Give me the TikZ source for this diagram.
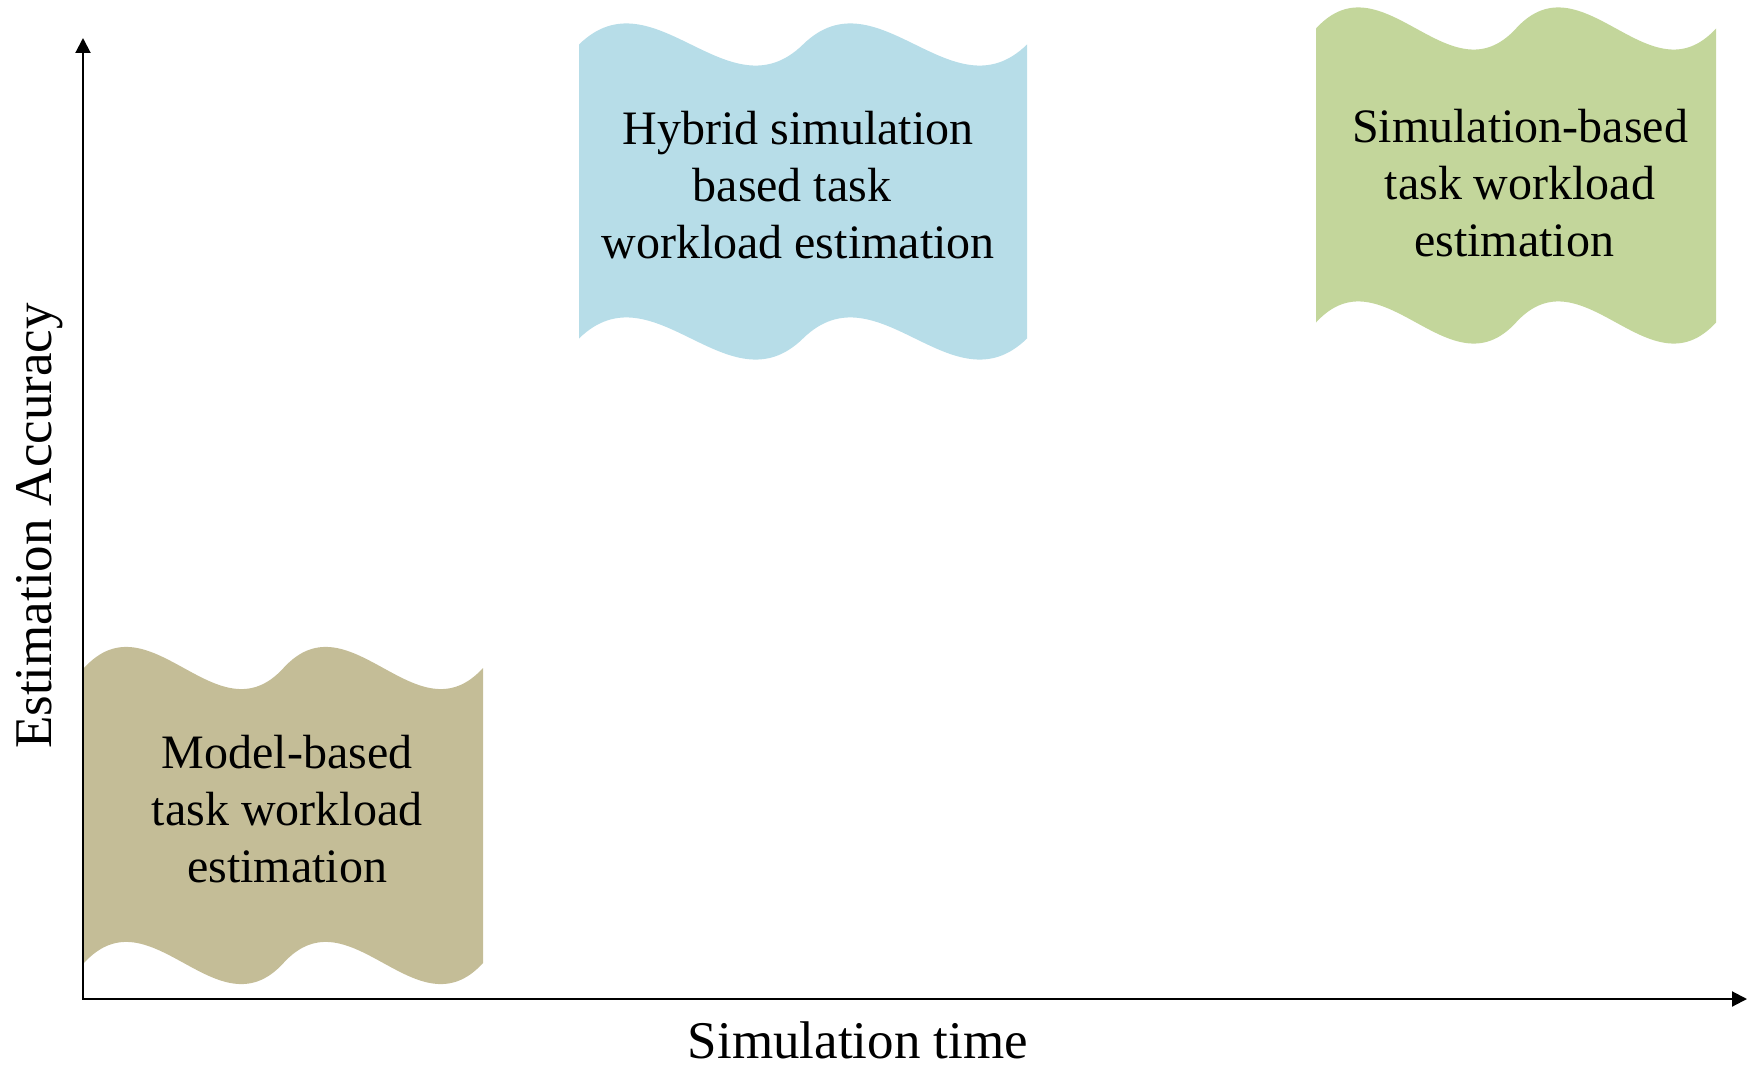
\documentclass[tikz,border=0pt]{standalone}
\usepackage{fontspec}
\setmainfont{Liberation Serif}
\usetikzlibrary{arrows.meta}
\definecolor{tanfill}{HTML}{C4BD97}
\definecolor{bluefill}{HTML}{B7DDE8}
\definecolor{greenfill}{HTML}{C3D69B}
\newcommand\wavebox[5]{%
  \pgfmathsetmacro\wvL{#1}\pgfmathsetmacro\wvR{#2}%
  \pgfmathsetmacro\wvH{(#2-#1)/2}%
  \pgfmathsetmacro\wvM{#1+\wvH}%
  \pgfmathsetmacro\wvA{#1+\wvH/3}\pgfmathsetmacro\wvB{#1+2*\wvH/3}%
  \pgfmathsetmacro\wvC{\wvM+\wvH/3}\pgfmathsetmacro\wvD{\wvM+2*\wvH/3}%
  \fill[#5] (\wvL,#3) .. controls (\wvA,#3-73) and (\wvB,#3+73) .. (\wvM,#3)
     .. controls (\wvC,#3-73) and (\wvD,#3+73) .. (\wvR,#3)
     -- (\wvR,#4) .. controls (\wvD,#4+73) and (\wvC,#4-73) .. (\wvM,#4)
     .. controls (\wvB,#4+73) and (\wvA,#4-73) .. (\wvL,#4) -- cycle;
}
\tikzset{
  boxtext/.style={align=center, font=\fontsize{48}{57}\selectfont, inner sep=0pt},
  axlabel/.style={font=\fontsize{53}{63}\selectfont, inner sep=0pt},
  axisline/.style={line width=2pt, -{Triangle[length=15pt,width=15pt]}},
}
\begin{document}
\begin{tikzpicture}[x=1pt,y=-1pt]
\useasboundingbox (0,0) rectangle (1759,1065);
\coordinate (origin) at (83,999);
\coordinate (ytip) at (83,38);
\coordinate (xtip) at (1747,999);
\draw[axisline] (origin) -- (ytip);
\draw[axisline] ([xshift=-1pt]origin) -- (xtip);
\wavebox{84}{483}{668}{963}{tanfill}
\wavebox{579}{1027}{44.5}{338.5}{bluefill}
\wavebox{1316}{1716}{28.5}{322.5}{greenfill}
\node[boxtext] (hyb) at (798,185) {Hybrid simulation\\based task\rule{0.25em}{0pt}\\workload estimation};
\node[boxtext] (sim) at (1520,183) {Simulation-based\\task workload\\estimation\rule{0.25em}{0pt}};
\node[boxtext] (mod) at (287,809) {Model-based\\task workload\\estimation};
\node[axlabel, anchor=base] (xl) at (858,1058) {Simulation time};
\node[axlabel, anchor=base, rotate=90] (yl) at (51,526) {Estimation Accuracy};
\end{tikzpicture}
\end{document}
